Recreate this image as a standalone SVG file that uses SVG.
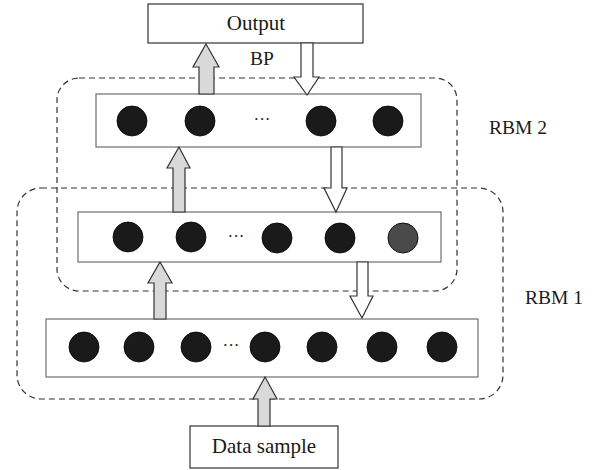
<svg xmlns="http://www.w3.org/2000/svg" width="592" height="470" viewBox="0 0 592 470">
  <style>
    .box { fill: #fff; stroke: #6e6e6e; stroke-width: 1.2; }
    .tbox { fill: #fff; stroke: #333; stroke-width: 1.2; }
    .group { fill: none; stroke: #333; stroke-width: 1.2; stroke-dasharray: 6 4; }
    .unit { fill: #1a1a1a; stroke: #000; stroke-width: 0.8; }
    .unit-bias { fill: #4a4a4a; stroke: #111; stroke-width: 1; }
    .up { fill: #d9d9d9; stroke: #333; stroke-width: 1.2; stroke-linejoin: miter; }
    .down { fill: #fff; stroke: #333; stroke-width: 1.2; stroke-linejoin: miter; }
    text { font-family: "Liberation Serif", "Times New Roman", serif; fill: #1a1a1a; text-anchor: middle; }
    .name { font-size: 21px; }
    .lbl { font-size: 19.5px; }
    .dots { font-size: 17px; }
  </style>

  <!-- RBM grouping outlines -->
  <g id="rbm2-group">
    <rect class="group" x="57" y="78" width="400" height="213" rx="22" ry="22"/>
    <text class="lbl" x="518" y="134">RBM 2</text>
  </g>
  <g id="rbm1-group">
    <rect class="group" x="17" y="188" width="486" height="211" rx="24" ry="24"/>
    <text class="lbl" x="554" y="304">RBM 1</text>
  </g>

  <!-- Output node -->
  <g id="output">
    <rect class="tbox" x="148" y="4" width="215" height="39"/>
    <text class="name" x="256" y="30">Output</text>
  </g>

  <!-- Top hidden layer -->
  <g id="layer-top">
    <rect class="box" x="96" y="94" width="325" height="53"/>
    <circle class="unit" cx="132" cy="121" r="15"/>
    <circle class="unit" cx="200" cy="121" r="15"/>
    <text class="dots" x="262" y="125">···</text>
    <circle class="unit" cx="321" cy="121" r="15"/>
    <circle class="unit" cx="388" cy="121" r="15"/>
  </g>

  <!-- Middle hidden layer -->
  <g id="layer-middle">
    <rect class="box" x="78" y="212" width="363" height="50"/>
    <circle class="unit" cx="128" cy="237" r="15"/>
    <circle class="unit" cx="191" cy="237" r="15"/>
    <text class="dots" x="236" y="242">···</text>
    <circle class="unit" cx="277" cy="238" r="15"/>
    <circle class="unit" cx="340" cy="238" r="15"/>
    <circle class="unit-bias" cx="403" cy="238" r="15"/>
  </g>

  <!-- Visible layer -->
  <g id="layer-visible">
    <rect class="box" x="46" y="319" width="432" height="58"/>
    <circle class="unit" cx="84" cy="347" r="15"/>
    <circle class="unit" cx="139" cy="347" r="15"/>
    <circle class="unit" cx="196" cy="347" r="15"/>
    <text class="dots" x="231" y="351">···</text>
    <circle class="unit" cx="265" cy="347" r="15"/>
    <circle class="unit" cx="322" cy="347" r="15"/>
    <circle class="unit" cx="382" cy="347" r="15"/>
    <circle class="unit" cx="442" cy="347" r="15"/>
  </g>

  <!-- Data sample node -->
  <g id="data-sample">
    <rect class="tbox" x="190" y="426" width="148" height="42"/>
    <text class="name" x="264" y="453">Data sample</text>
  </g>

  <!-- Block arrows between layers -->
  <g id="connectors">
    <!-- top layer up to output -->
    <polygon class="up" points="206,44 219,67 214,67 214,94 199,94 199,67 193,67"/>
    <!-- output back down (BP) -->
    <polygon class="down" points="301,43 313,43 313,77 319,77 307,95 294,77 301,77"/>
    <text class="lbl" x="262" y="65">BP</text>
    <!-- middle up to top -->
    <polygon class="up" points="179,147 190,168 185,168 185,212 173,212 173,168 167,168"/>
    <!-- top down to middle -->
    <polygon class="down" points="331,147 342,147 342,188 347,188 336,212 324,188 331,188"/>
    <!-- visible up to middle -->
    <polygon class="up" points="160,262 172,283 166,283 166,319 154,319 154,283 148,283"/>
    <!-- middle down to visible -->
    <polygon class="down" points="357,262 368,262 368,296 373,296 362,318 350,296 357,296"/>
    <!-- data sample up to visible -->
    <polygon class="up" points="265,377 277,399 270,399 270,426 258,426 258,399 253,399"/>
  </g>
</svg>
